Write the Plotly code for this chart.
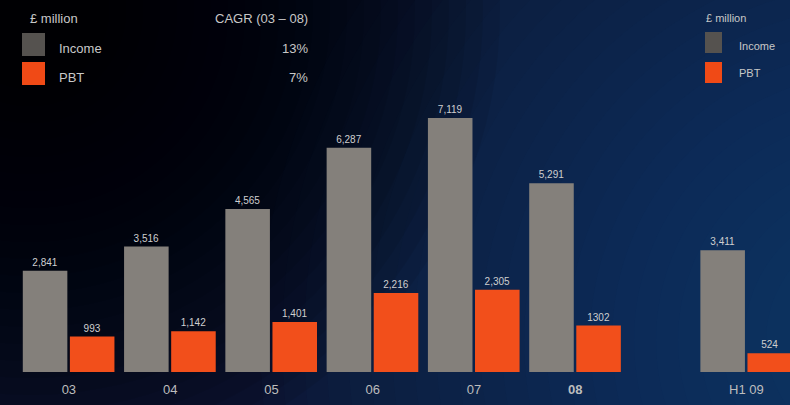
import plotly.graph_objects as go

# ---- data ----
periods = ["03", "04", "05", "06", "07", "<b>08</b>", "H1 09"]
period_pos = [0, 1, 2, 3, 4, 5, 6.69]
income = [2841, 3516, 4565, 6287, 7119, 5291, 3411]
income_text = ["2,841", "3,516", "4,565", "6,287", "7,119", "5,291", "3,411"]
pbt = [993, 1142, 1401, 2216, 2305, 1302, 524]
pbt_text = ["993", "1,142", "1,401", "2,216", "2,305", "1302", "524"]
cagr_labels = ["13%", "7%"]

W, H = 790, 405
BOTTOM = 33
PLOT_H = H - BOTTOM

def px(x):
    return x / W

def py(y):
    return (PLOT_H - y) / PLOT_H

FONT = "Liberation Sans, Arial, sans-serif"
INCOME_C = "#84807b"
PBT_C = "#f24f1b"

fig = go.Figure()
fig.add_trace(go.Bar(
    x=period_pos, y=income, width=0.44, offset=-0.455,
    marker=dict(color=INCOME_C, line=dict(width=0)),
    text=income_text, textposition="outside", cliponaxis=False,
    textfont=dict(size=10, color="#cfcfcf", family=FONT), name="Income",
))
fig.add_trace(go.Bar(
    x=period_pos, y=pbt, width=0.44, offset=0.01,
    marker=dict(color=PBT_C, line=dict(width=0)),
    text=pbt_text, textposition="outside", cliponaxis=False,
    textfont=dict(size=10, color="#cfcfcf", family=FONT), name="PBT",
))

shapes = []
# smooth background glow (bottom-right blue) and dark top-left
n = 24
for i in range(n):
    r = 620 - i * 22
    cx, cy = 880, 340
    shapes.append(dict(type="circle", xref="paper", yref="paper", layer="below",
                       x0=px(cx - r), x1=px(cx + r), y0=py(cy + r), y1=py(cy - r),
                       fillcolor="rgba(35,75,145,0.035)", line=dict(width=0)))
for i in range(n):
    r = 470 - i * 17
    cx, cy = 30, 10
    shapes.append(dict(type="circle", xref="paper", yref="paper", layer="below",
                       x0=px(cx - r), x1=px(cx + r), y0=py(cy + r), y1=py(cy - r),
                       fillcolor="rgba(0,0,0,0.07)", line=dict(width=0)))

# legend swatches
def swatch(x0, y0, x1, y1, color):
    shapes.append(dict(type="rect", xref="paper", yref="paper",
                       x0=px(x0), x1=px(x1), y0=py(y1), y1=py(y0),
                       fillcolor=color, line=dict(width=0), layer="above"))

swatch(22, 33, 45, 56, "#55524f")
swatch(22, 62, 45, 85, "#f04a16")
swatch(705, 32, 722, 53, "#55524f")
swatch(705, 62, 722, 83, "#f04a16")

annotations = []
def label(x, y, text, size=13, anchor="left", color="#c8c8c8"):
    annotations.append(dict(xref="paper", yref="paper", x=px(x), y=py(y), text=text,
                            showarrow=False, xanchor=anchor, yanchor="middle",
                            font=dict(size=size, color=color, family=FONT)))

label(28, 19, "£ million", 13)
label(57, 48, "Income", 13)
label(57, 77, "PBT", 13)
label(310, 19, "CAGR (03 – 08)", 13, "right")
label(310, 48, cagr_labels[0], 13, "right")
label(310, 77, cagr_labels[1], 13, "right")
label(704, 18, "£ million", 11)
label(737, 46, "Income", 11)
label(737, 73, "PBT", 11)

fig.update_layout(
    width=W, height=H,
    margin=dict(l=0, r=0, t=0, b=BOTTOM, pad=0),
    paper_bgcolor="#0c1433",
    plot_bgcolor="rgba(0,0,0,0)",
    barmode="overlay",
    showlegend=False,
    shapes=shapes,
    annotations=annotations,
    xaxis=dict(range=[-0.68, 7.12], tickvals=period_pos, ticktext=periods,
               showgrid=False, zeroline=False, showline=False,
               ticks="outside", ticklen=5, tickcolor="rgba(0,0,0,0)",
               tickfont=dict(size=13, color="#bdbdbd", family=FONT), fixedrange=True),
    yaxis=dict(range=[0, 10426], visible=False, showgrid=False, zeroline=False),
)

fig.write_html("out.html")
